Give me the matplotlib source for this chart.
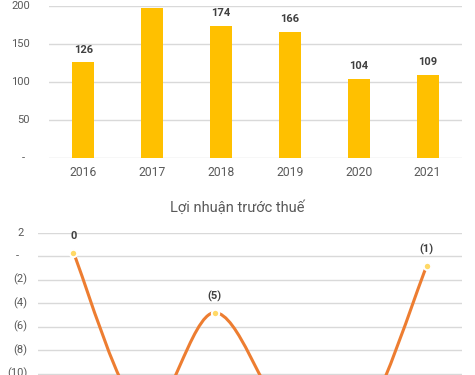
import numpy as np
import matplotlib
matplotlib.use('Agg')
import matplotlib.pyplot as plt
from matplotlib.path import Path
from matplotlib.patches import PathPatch
from matplotlib.transforms import blended_transform_factory, offset_copy

plt.rcParams['font.family'] = ['Roboto', 'DejaVu Sans']

# dữ liệu
years = ['2016', '2017', '2018', '2019', '2020', '2021']
doanh_thu = [126, 197, 174, 166, 104, 109]
loi_nhuan = [0.3, -13.4, -4.8, -13.4, -15.0, -0.85]
bar_ticks = [0, 50, 100, 150, 200]
line_ticks = [2, 0, -2, -4, -6, -8, -10, -12, -14, -16, -18, -20]
title2 = 'Lợi nhuận trước thuế'

GRID = '#D9D9D9'
TXT = '#595959'
LBL = '#404040'
BAR = '#FFC000'
LINE = '#ED7D31'
DOT = '#FFD966'

fig = plt.figure(figsize=(4.75, 3.75), dpi=100)
x = np.arange(len(years))


def style_axes(ax):
    for s in ['top', 'right', 'left', 'bottom']:
        ax.spines[s].set_visible(False)
    ax.tick_params(length=0)
    ax.set_yticklabels([])
    ax.set_xlim(-0.5, len(years) - 0.5)


def y_label(ax, v, text, dx):
    tr = blended_transform_factory(ax.transAxes, ax.transData)
    tr = offset_copy(tr, fig=fig, x=dx, y=0, units='dots')
    ax.text(0, v, text, transform=tr, ha='right', va='center',
            fontsize=8, color=TXT, clip_on=False)


# ---- biểu đồ cột ----
ax1 = fig.add_axes([49 / 475, 217 / 375, 413 / 475, 152 / 375])
ax1.bar(x, doanh_thu, width=0.32, color=BAR, zorder=2)
ax1.set_ylim(0, 200)
ax1.set_yticks(bar_ticks)
style_axes(ax1)
ax1.yaxis.grid(True, color=GRID, lw=1.0)
ax1.set_axisbelow(True)
ax1.set_xticks(x)
ax1.set_xticklabels(years, fontsize=8.7, color=TXT)
ax1.tick_params(axis='x', pad=5.5)
for v in bar_ticks:
    if v == 0:
        y_label(ax1, v, '-', -24)
    else:
        y_label(ax1, v, str(v), -19)
for xi, v in zip(x, doanh_thu):
    ax1.annotate(str(v), (xi, v), xytext=(0, 7), textcoords='offset points',
                 ha='center', va='baseline', fontsize=8, fontweight='bold',
                 color=LBL, annotation_clip=False)

# ---- biểu đồ đường ----
ax2 = fig.add_axes([38 / 475, -0.3099, 424 / 475, 0.6894])
ax2.set_ylim(-20, 2)
ax2.set_yticks(line_ticks)
style_axes(ax2)
ax2.set_xticks([])
ax2.yaxis.grid(True, color=GRID, lw=1.0)
ax2.set_axisbelow(True)
for v in line_ticks:
    if v == 0:
        y_label(ax2, v, '-', -19.3)
    elif v > 0:
        y_label(ax2, v, str(v), -14)
    else:
        y_label(ax2, v, '(%d)' % abs(v), -10.7)

# đường cong mượt kiểu Excel (Catmull-Rom -> Bezier)
P = np.column_stack([x, loi_nhuan]).astype(float)
n = len(P)
verts = [P[0]]
codes = [Path.MOVETO]
for i in range(n - 1):
    p0 = P[i - 1] if i > 0 else P[i]
    p1 = P[i]
    p2 = P[i + 1]
    p3 = P[i + 2] if i + 2 < n else P[i + 1]
    verts += [p1 + (p2 - p0) / 6, p2 - (p3 - p1) / 6, p2]
    codes += [Path.CURVE4] * 3
ax2.add_patch(PathPatch(Path(verts, codes), fill=False, edgecolor=LINE,
                        lw=2.2, capstyle='round', zorder=3))
ax2.plot(x, loi_nhuan, 'o', ms=5.3, mfc=DOT, mec='white', mew=1.4, zorder=4)
for xi, v in zip(x, loi_nhuan):
    r = int(round(abs(v)))
    s = str(r) if v >= 0 or r == 0 else '(%d)' % r
    ax2.annotate(s, (xi, v), xytext=(0, 9.5), textcoords='offset points',
                 ha='center', va='baseline', fontsize=8, fontweight='bold',
                 color=LBL)

fig.text(0.5, 163.3 / 375, title2, ha='center', va='baseline',
         fontsize=10.5, color=TXT)

fig.savefig('out.png', dpi=100)
